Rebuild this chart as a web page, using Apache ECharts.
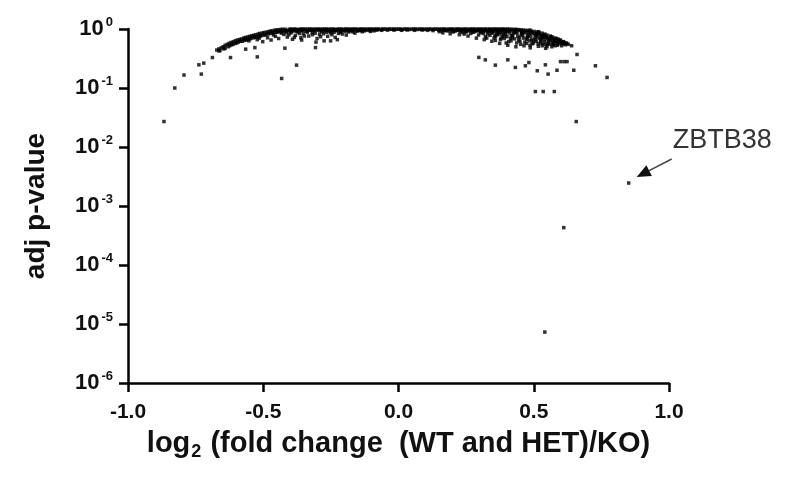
<!DOCTYPE html>
<html>
<head>
<meta charset="utf-8">
<script src="https://cdn.jsdelivr.net/npm/echarts@6/dist/echarts.min.js"></script>
<style>html,body{margin:0;padding:0;background:#fff}#c{width:787px;height:482px}</style>
</head>
<body>
<div id="c"></div>
<script>
// x tick labels
const xTicks = [-1.0, -0.5, 0.0, 0.5, 1.0];
// y tick values (log axis)
const yTicks = [1, 0.1, 0.01, 0.001, 0.0001, 0.00001, 0.000001];

// genes with adj p-value ~1 (plateau)
const plateau = [
[-0.404,0.99],[-0.397,1.0],[-0.391,0.98],[-0.384,1.0],[-0.376,0.99],[-0.371,0.97],[-0.363,1.0],[-0.357,0.99],[-0.349,1.0],[-0.343,0.98],
[-0.336,1.0],[-0.328,0.99],[-0.322,1.0],[-0.314,0.97],[-0.309,1.0],[-0.301,0.99],[-0.294,1.0],[-0.288,0.98],[-0.280,1.0],[-0.273,0.99],
[-0.267,1.0],[-0.259,0.98],[-0.253,1.0],[-0.245,0.99],[-0.239,1.0],[-0.232,0.97],[-0.224,1.0],[-0.218,0.99],[-0.211,1.0],[-0.204,0.98],
[-0.196,1.0],[-0.191,0.99],[-0.183,1.0],[-0.176,0.98],[-0.170,1.0],[-0.162,0.99],[-0.157,1.0],[-0.149,0.98],[-0.142,1.0],[-0.136,0.99],
[-0.128,1.0],[-0.122,0.98],[-0.115,1.0],[-0.107,0.99],[-0.101,1.0],[-0.094,0.98],[-0.088,1.0],[-0.080,0.99],[-0.075,1.0],[-0.067,0.98],
[-0.060,1.0],[-0.054,0.99],[-0.047,1.0],[-0.039,0.98],[-0.033,1.0],[-0.026,0.99],[-0.019,1.0],[-0.013,0.98],[-0.006,1.0],[0.001,0.99],
[0.008,1.0],[0.014,0.98],[0.022,1.0],[0.028,0.99],[0.035,1.0],[0.041,0.98],[0.049,1.0],[0.056,0.99],[0.062,1.0],[0.070,0.98],
[0.076,1.0],[0.083,0.99],[0.090,1.0],[0.096,0.98],[0.103,1.0],[0.111,0.99],[0.117,1.0],[0.124,0.98],[0.131,1.0],[0.137,0.99],
[0.145,1.0],[0.151,0.98],[0.158,1.0],[0.165,0.99],[0.171,1.0],[0.178,0.98],[0.186,1.0],[0.192,0.99],[0.199,1.0],[0.205,0.98],
[0.213,1.0],[0.219,0.99],[0.226,1.0],[0.232,0.98],[0.240,1.0],[0.246,0.99],[0.253,1.0],[0.261,0.98],[0.267,1.0],[0.274,0.99],
[0.280,1.0],[0.288,0.98],[0.294,1.0],[0.301,0.99],[0.308,1.0],[0.315,0.98],[0.321,1.0],[0.328,0.99],[0.336,1.0],[0.342,0.98],
[0.349,1.0],[0.355,0.99],[0.363,1.0],[0.369,0.98],[0.376,1.0],[0.383,0.99],[0.390,1.0],[0.396,0.98],[0.403,1.0],[0.411,0.99]
];

// genes just under the plateau
const plateauLow = [
[-0.398,0.95],[-0.386,0.93],[-0.373,0.95],[-0.361,0.94],[-0.352,0.96],[-0.338,0.93],[-0.326,0.95],[-0.317,0.94],[-0.304,0.96],[-0.291,0.93],
[-0.283,0.95],[-0.270,0.94],[-0.262,0.96],[-0.249,0.93],[-0.236,0.95],[-0.227,0.94],[-0.215,0.96],[-0.201,0.94],[-0.188,0.95],[-0.179,0.93],
[-0.166,0.96],[-0.153,0.95],[-0.139,0.94],[-0.125,0.96],[-0.104,0.95],[-0.083,0.96],[-0.062,0.95],[-0.041,0.96],[-0.017,0.96],[0.011,0.95],
[0.032,0.96],[0.059,0.95],[0.087,0.96],[0.108,0.95],[0.128,0.94],[0.149,0.95],[0.162,0.93],[0.175,0.95],[0.188,0.94],[0.201,0.93],
[0.217,0.95],[0.229,0.93],[0.243,0.94],[0.256,0.93],[0.270,0.95],[0.284,0.93],[0.291,0.94],[0.305,0.93],[0.318,0.95],[0.331,0.93],
[0.339,0.94],[0.352,0.93],[0.366,0.95],[0.379,0.93],[0.386,0.94],[0.399,0.93],[0.408,0.96],[0.414,0.94]
];

// left cluster (down-regulated side)
const leftCluster = [
[-0.672,0.44],[-0.664,0.46],[-0.655,0.48],[-0.648,0.50],[-0.641,0.53],[-0.633,0.55],[-0.626,0.57],[-0.619,0.59],[-0.611,0.61],[-0.603,0.63],
[-0.596,0.65],[-0.588,0.66],[-0.581,0.68],[-0.572,0.70],[-0.566,0.72],[-0.557,0.73],[-0.551,0.75],[-0.542,0.77],[-0.535,0.78],[-0.528,0.80],
[-0.519,0.82],[-0.513,0.84],[-0.504,0.85],[-0.498,0.87],[-0.489,0.88],[-0.482,0.90],[-0.474,0.92],[-0.468,0.93],[-0.459,0.95],[-0.452,0.96],
[-0.445,0.97],[-0.436,0.98],[-0.429,0.99],[-0.419,0.99],
[-0.641,0.47],[-0.624,0.52],[-0.612,0.55],[-0.598,0.58],[-0.585,0.62],[-0.571,0.64],[-0.558,0.67],[-0.546,0.70],[-0.531,0.72],[-0.517,0.75],
[-0.506,0.78],[-0.493,0.80],[-0.479,0.83],[-0.466,0.86],[-0.453,0.88],[-0.441,0.90],[-0.427,0.92],[-0.414,0.94],[-0.402,0.95],[-0.389,0.96],
[-0.660,0.43],[-0.646,0.46],[-0.630,0.50],[-0.617,0.54],[-0.604,0.57],[-0.592,0.60],[-0.578,0.62],[-0.563,0.65],[-0.549,0.68],[-0.537,0.71],
[-0.524,0.74],[-0.510,0.76],[-0.496,0.79],[-0.486,0.82],[-0.472,0.85],[-0.460,0.87],[-0.447,0.89],[-0.434,0.91],[-0.421,0.93],[-0.408,0.92],
[-0.553,0.63],[-0.522,0.66],[-0.502,0.61],[-0.484,0.71],[-0.471,0.65],[-0.455,0.75],[-0.443,0.69],[-0.424,0.81],[-0.411,0.73],[-0.398,0.86],
[-0.392,0.67],[-0.381,0.78],[-0.372,0.89],[-0.361,0.71],[-0.352,0.83],[-0.341,0.92],[-0.332,0.76],[-0.319,0.87],[-0.312,0.94],[-0.301,0.69],
[-0.292,0.81],[-0.283,0.90],[-0.271,0.95],[-0.262,0.75],[-0.251,0.86],[-0.243,0.93],[-0.234,0.72],[-0.222,0.84],[-0.213,0.91],[-0.204,0.96],
[-0.193,0.79],[-0.184,0.89],[-0.172,0.94],[-0.161,0.85],[-0.152,0.92],[-0.134,0.90],[-0.113,0.95],[-0.091,0.93],[-0.462,0.79],[-0.433,0.85],
[-0.377,0.92],[-0.356,0.95],[-0.327,0.96],[-0.298,0.97],[-0.266,0.88],[-0.229,0.97],[-0.196,0.92],[-0.176,0.97],[-0.145,0.96],[-0.318,0.80],
[-0.288,0.74],[-0.246,0.80],[-0.215,0.87],[-0.405,0.80],[-0.348,0.76],[-0.515,0.70],[-0.538,0.74],[-0.567,0.68],[-0.395,0.90],[-0.366,0.84],
[-0.337,0.88],[-0.308,0.85],[-0.277,0.83],[-0.256,0.91],[-0.238,0.88],[-0.207,0.82],[-0.168,0.89],[-0.126,0.93],[-0.104,0.91],[-0.078,0.97],
[-0.415,0.86],[-0.437,0.93],[-0.385,0.72],[-0.358,0.65],[-0.275,0.63],[-0.305,0.60],[-0.226,0.66]
];

// right cluster (up-regulated side)
const rightCluster = [
[0.151,0.90],[0.164,0.86],[0.179,0.93],[0.191,0.83],[0.202,0.89],[0.215,0.95],[0.225,0.80],[0.237,0.87],[0.248,0.92],[0.257,0.76],
[0.267,0.84],[0.273,0.90],[0.282,0.96],[0.288,0.70],[0.296,0.79],[0.303,0.86],[0.308,0.93],[0.317,0.66],[0.321,0.74],[0.329,0.82],
[0.333,0.89],[0.341,0.95],[0.345,0.62],[0.353,0.70],[0.356,0.78],[0.363,0.85],[0.367,0.91],[0.374,0.57],[0.377,0.66],[0.384,0.74],
[0.387,0.81],[0.394,0.88],[0.397,0.94],[0.404,0.53],[0.407,0.61],[0.414,0.69],[0.417,0.77],[0.424,0.84],[0.427,0.91],[0.434,0.50],
[0.437,0.58],[0.444,0.65],[0.447,0.72],[0.454,0.80],[0.457,0.87],[0.464,0.52],[0.467,0.60],[0.474,0.67],[0.477,0.75],[0.484,0.82],
[0.487,0.48],[0.494,0.56],[0.497,0.63],[0.504,0.70],[0.507,0.78],[0.514,0.84],[0.517,0.51],[0.524,0.58],[0.527,0.65],[0.534,0.72],
[0.537,0.79],[0.544,0.47],[0.547,0.54],[0.554,0.61],[0.557,0.68],[0.564,0.74],[0.567,0.50],[0.574,0.57],[0.577,0.64],[0.584,0.69],
[0.587,0.53],[0.594,0.60],[0.597,0.65],[0.605,0.56],[0.611,0.60],[0.617,0.54],[0.622,0.57],
[0.419,0.99],[0.431,0.99],[0.441,0.98],[0.452,0.97],[0.461,0.96],[0.471,0.95],[0.479,0.94],[0.491,0.92],[0.501,0.91],[0.511,0.89],
[0.519,0.87],[0.531,0.85],[0.541,0.82],[0.549,0.79],[0.561,0.76],[0.569,0.73],[0.579,0.70],[0.591,0.67],[0.599,0.64],[0.609,0.61],
[0.619,0.58],[0.628,0.55],
[0.262,0.95],[0.298,0.97],[0.336,0.97],[0.361,0.96],[0.389,0.97],[0.411,0.93],[0.426,0.96],[0.446,0.94],[0.466,0.91],[0.481,0.88],
[0.496,0.86],[0.512,0.80],[0.526,0.76],[0.542,0.72],[0.556,0.66],[0.572,0.62],[0.586,0.58],[0.603,0.52],[0.348,0.88],[0.372,0.82],
[0.393,0.76],[0.421,0.71],[0.438,0.85],[0.459,0.78],[0.476,0.71],[0.492,0.66],[0.509,0.62],[0.521,0.69],[0.539,0.60],[0.552,0.57],
[0.228,0.91],[0.195,0.97],[0.171,0.96],[0.312,0.89],[0.278,0.88],[0.243,0.82],[0.326,0.70],[0.358,0.64],[0.398,0.58],[0.452,0.55],
[0.486,0.53],[0.531,0.52],[0.571,0.54],
[0.302,0.91],[0.314,0.84],[0.324,0.93],[0.338,0.78],[0.343,0.85],[0.351,0.92],[0.359,0.74],[0.365,0.80],[0.371,0.88],[0.379,0.70],
[0.382,0.86],[0.391,0.69],[0.396,0.83],[0.401,0.74],[0.409,0.86],[0.416,0.63],[0.422,0.78],[0.429,0.68],[0.433,0.88],[0.441,0.75],
[0.449,0.62],[0.456,0.84],[0.462,0.70],[0.469,0.86],[0.473,0.57],[0.479,0.79],[0.483,0.63],[0.489,0.75],[0.493,0.86],[0.499,0.58],
[0.503,0.82],[0.506,0.66],[0.512,0.73],[0.516,0.56],[0.521,0.81],[0.526,0.61],[0.529,0.70],[0.533,0.77],[0.536,0.55],[0.541,0.66],
[0.546,0.74],[0.549,0.50],[0.552,0.70],[0.558,0.55],[0.561,0.64],[0.566,0.69],[0.569,0.58],[0.576,0.67],[0.579,0.52],[0.582,0.61],
[0.589,0.64],[0.592,0.56],[0.601,0.60],[0.607,0.58],[0.614,0.57],[0.396,0.91],[0.455,0.92],[0.518,0.90],[0.251,0.89],[0.287,0.93],
[0.319,0.97],[0.377,0.95],[0.436,0.97],[0.486,0.96],[0.231,0.97],[0.209,0.92]
];

// scattered genes away from the main cloud
const outliers = [
[-0.867,0.027],[-0.827,0.10],[-0.793,0.166],[-0.729,0.172],[-0.738,0.247],[-0.720,0.264],[-0.688,0.328],[-0.664,0.426],[-0.621,0.328],[-0.565,0.455],
[-0.522,0.337],[-0.531,0.484],[-0.432,0.145],[-0.377,0.244],[-0.420,0.473],[-0.307,0.484],[-0.251,0.63],[-0.144,0.95],
[0.297,0.33],[0.321,0.30],[0.358,0.244],[0.404,0.30],[0.432,0.223],[0.469,0.238],[0.482,0.27],[0.513,0.196],[0.543,0.247],[0.553,0.172],
[0.586,0.20],[0.599,0.28],[0.612,0.28],[0.623,0.28],[0.648,0.20],[0.660,0.37],[0.640,0.52],[0.728,0.238],[0.771,0.151],
[0.506,0.087],[0.535,0.087],[0.576,0.087],[0.657,0.027],[0.611,0.00043],[0.541,0.0000073]
];

// labelled gene
const labelName = 'ZBTB38';
const labelPoint = [0.851, 0.00245];

const FONT = '"Liberation Sans", Arial, sans-serif';
const chart = echarts.init(document.getElementById('c'), null, {renderer: 'canvas'});

const allPoints = plateau.concat(plateauLow, leftCluster, rightCluster, outliers, [labelPoint]);

chart.setOption({
  animation: false,
  backgroundColor: '#ffffff',
  grid: {left: 128, right: 118, top: 29, bottom: 99, containLabel: false},
  xAxis: {
    type: 'value', min: -1, max: 1, interval: 0.5,
    axisLine: {onZero: false, lineStyle: {color: '#000', width: 2.5}},
    axisTick: {show: true, length: 9, lineStyle: {color: '#000', width: 2.5}},
    splitLine: {show: false},
    axisLabel: {
      color: '#111', fontFamily: FONT, fontWeight: 'bold', fontSize: 21, margin: 19,
      formatter: v => xTicks.find(t => Math.abs(t - v) < 1e-9).toFixed(1)
    },
    name: '{a|log}{s|2}{a| (fold change  (WT and HET)/KO)}',
    nameLocation: 'middle', nameGap: 44,
    nameTextStyle: {
      fontFamily: FONT, color: '#111',
      rich: {
        a: {fontFamily: FONT, fontWeight: 'bold', fontSize: 29, color: '#111', lineHeight: 34},
        s: {fontFamily: FONT, fontWeight: 'bold', fontSize: 18, color: '#111', verticalAlign: 'bottom', lineHeight: 34, padding: [13, 1, 0, 1]}
      }
    }
  },
  yAxis: {
    type: 'log', logBase: 10, min: 1e-6, max: 1,
    axisLine: {onZero: false, lineStyle: {color: '#000', width: 2.5}},
    axisTick: {show: true, length: 9, lineStyle: {color: '#000', width: 2.5}},
    splitLine: {show: false},
    minorTick: {show: false},
    axisLabel: {
      margin: 15,
      formatter: v => {
        const t = yTicks.find(y => Math.abs(Math.log10(y) - Math.log10(v)) < 1e-6);
        const e = Math.round(Math.log10(t));
        return '{b|10}{s|' + e + '}';
      },
      rich: {
        b: {fontFamily: FONT, fontWeight: 'bold', fontSize: 22, color: '#111', lineHeight: 26},
        s: {fontFamily: FONT, fontWeight: 'bold', fontSize: 13, color: '#111', verticalAlign: 'top', lineHeight: 26, padding: [0, 0, 10, 2]}
      }
    },
    name: 'adj p-value',
    nameLocation: 'middle', nameGap: 78, nameRotate: 90,
    nameTextStyle: {fontFamily: FONT, fontWeight: 'bold', fontSize: 28, color: '#111'}
  },
  series: [{
    type: 'scatter',
    symbol: 'rect',
    symbolSize: 3.5,
    itemStyle: {color: '#000'},
    data: allPoints
  }]
});

// annotation arrow and label, positioned relative to the labelled gene
const p = chart.convertToPixel({gridIndex: 0}, labelPoint);
const tip = [p[0] + 8, p[1] - 6];
const tail = [p[0] + 43, p[1] - 24];
const ang = Math.atan2(tail[1] - tip[1], tail[0] - tip[0]);
const hl = 14, hw = 6;
const bx = tip[0] + Math.cos(ang) * hl, by = tip[1] + Math.sin(ang) * hl;
const nx = -Math.sin(ang), ny = Math.cos(ang);
chart.setOption({
  graphic: [
    {type: 'line', shape: {x1: bx, y1: by, x2: tail[0], y2: tail[1]}, style: {stroke: '#444', lineWidth: 1.5}},
    {type: 'polygon', shape: {points: [tip, [bx + nx * hw, by + ny * hw], [bx - nx * hw, by - ny * hw]]}, style: {fill: '#111'}},
    {type: 'text', x: p[0] + 44, y: p[1] - 56, style: {text: labelName, fontFamily: FONT, fontSize: 27, fill: '#333'}}
  ]
});
</script>
</body>
</html>
